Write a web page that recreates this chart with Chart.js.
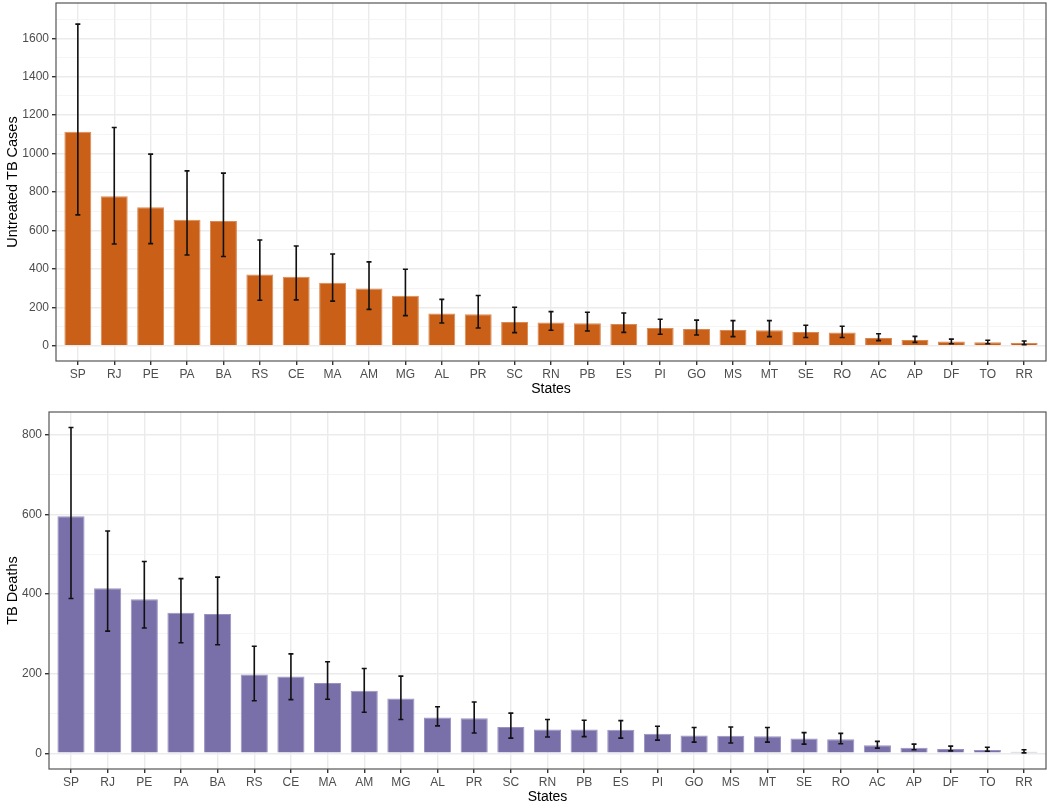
<!DOCTYPE html>
<html>
<head>
<meta charset="utf-8">
<script src="https://cdn.jsdelivr.net/npm/chart.js@4"></script>
<style>
  body { margin: 0; background: #fff; }
  .box { position: absolute; left: 0; width: 1050px; }
  #top { top: 0; height: 400px; }
  #bottom { top: 400px; height: 408px; }
</style>
</head>
<body>
<div class="box" id="top"><canvas id="cases"></canvas></div>
<div class="box" id="bottom"><canvas id="deaths"></canvas></div>
<script>
const states = ['SP','RJ','PE','PA','BA','RS','CE','MA','AM','MG','AL','PR','SC','RN','PB','ES','PI','GO','MS','MT','SE','RO','AC','AP','DF','TO','RR'];

// untreated TB cases (estimate, lower, upper)
const cases      = [1113, 778, 721, 656, 649, 370, 359, 328, 297, 260, 167, 163, 123, 120, 116, 113, 92, 87, 81, 80, 71, 68, 40, 29, 21, 17, 14];
const casesLow   = [681, 529, 531, 472, 464, 236, 238, 232, 189, 156, 118, 92, 68, 80, 76, 69, 59, 55, 47, 47, 42, 42, 26, 17, 10, 10, 5];
const casesHigh  = [1674, 1136, 997, 910, 898, 550, 519, 477, 436, 398, 241, 261, 200, 177, 174, 170, 137, 133, 130, 130, 106, 101, 62, 48, 34, 28, 24];

// TB deaths (estimate, lower, upper)
const deaths     = [596, 415, 387, 353, 350, 198, 193, 177, 157, 138, 90, 88, 66, 60, 60, 59, 49, 45, 44, 43, 37, 35, 20, 14, 11, 8, 4];
const deathsLow  = [389, 307, 315, 278, 273, 132, 135, 136, 103, 85, 69, 51, 38, 41, 42, 38, 33, 28, 26, 28, 23, 24, 13, 9, 6, 5, 1];
const deathsHigh = [819, 559, 482, 439, 443, 269, 250, 230, 213, 194, 117, 129, 101, 85, 83, 82, 68, 65, 66, 65, 52, 50, 30, 23, 18, 15, 9];

const FONT = '"Liberation Sans", Arial, sans-serif';

// error bars + panel border
const errorBars = {
  id: 'errorBars',
  afterDatasetsDraw(chart, args, opts) {
    const ctx = chart.ctx, x = chart.scales.x, y = chart.scales.y;
    ctx.save();
    ctx.strokeStyle = '#111';
    ctx.lineWidth = 1.6;
    opts.low.forEach((lo, i) => {
      const px = x.getPixelForValue(i);
      const y1 = y.getPixelForValue(lo), y2 = y.getPixelForValue(opts.high[i]);
      ctx.beginPath();
      ctx.moveTo(px, y1); ctx.lineTo(px, y2);
      ctx.moveTo(px - 2.5, y1); ctx.lineTo(px + 2.5, y1);
      ctx.moveTo(px - 2.5, y2); ctx.lineTo(px + 2.5, y2);
      ctx.stroke();
    });
    const a = chart.chartArea;
    ctx.strokeStyle = '#555';
    ctx.lineWidth = 1.2;
    ctx.strokeRect(a.left, a.top, a.right - a.left, a.bottom - a.top);
    ctx.restore();
  }
};

function makeChart(id, values, low, high, color, border, yTitle, ymin, ymax, major, yWidth, padTop) {
  const pts = values.map((v, i) => ({x: i, y: v}));
  return new Chart(document.getElementById(id), {
    type: 'bar',
    data: {
      datasets: [{
        data: pts,
        backgroundColor: color,
        borderColor: border,
        borderWidth: 1,
        barPercentage: 0.74,
        categoryPercentage: 1
      }]
    },
    plugins: [errorBars],
    options: {
      responsive: true,
      maintainAspectRatio: false,
      animation: false,
      layout: { padding: { top: padTop, right: 4, left: 0, bottom: 0 } },
      plugins: {
        legend: { display: false },
        tooltip: { enabled: false },
        errorBars: { low, high }
      },
      scales: {
        x: {
          type: 'linear',
          offset: false,
          min: -0.6,
          max: states.length - 0.4,
          afterBuildTicks(s) { s.ticks = states.map((_, i) => ({value: i})); },
          afterFit(s) { s.height = 39; s.paddingLeft = 0; s.paddingRight = 0; },
          grid: { offset: false, color: '#EBEBEB', lineWidth: 1.4, tickColor: '#333', tickLength: 4 },
          border: { display: false },
          ticks: {
            autoSkip: false, maxRotation: 0, padding: 2,
            color: '#4D4D4D', font: { family: FONT, size: 12 },
            callback: v => states[v]
          },
          title: {
            display: true, text: 'States', color: '#000',
            font: { family: FONT, size: 14 }, padding: { top: 0, bottom: 2 }
          }
        },
        y: {
          min: ymin,
          max: ymax,
          afterBuildTicks(s) {
            const t = [];
            for (let v = 0; v <= ymax; v += major / 2) t.push({value: v});
            s.ticks = t;
          },
          afterFit(s) { s.width = yWidth; s.paddingTop = 0; s.paddingBottom = 0; },
          grid: {
            color: c => (c.tick && c.tick.value % major === 0) ? '#EBEBEB' : '#F3F3F3',
            lineWidth: c => (c.tick && c.tick.value % major === 0) ? 1.4 : 0.8,
            tickColor: c => (c.tick && c.tick.value % major === 0) ? '#333' : 'rgba(0,0,0,0)',
            tickLength: 4
          },
          border: { display: false },
          ticks: {
            padding: 3, color: '#4D4D4D', font: { family: FONT, size: 12 },
            callback: v => (v % major === 0) ? String(v) : ''
          },
          title: {
            display: true, text: yTitle, color: '#000',
            font: { family: FONT, size: 14.5 }, padding: { top: 4, bottom: 4 }
          }
        }
      }
    }
  });
}

makeChart('cases', cases, casesLow, casesHigh, '#CA6018', '#DA8A55',
  'Untreated TB Cases', -80, 1784, 200, 56, 3);
makeChart('deaths', deaths, deathsLow, deathsHigh, '#7A70A9', '#9A92C2',
  'TB Deaths', -39.5, 858, 200, 49, 12);
</script>
</body>
</html>
